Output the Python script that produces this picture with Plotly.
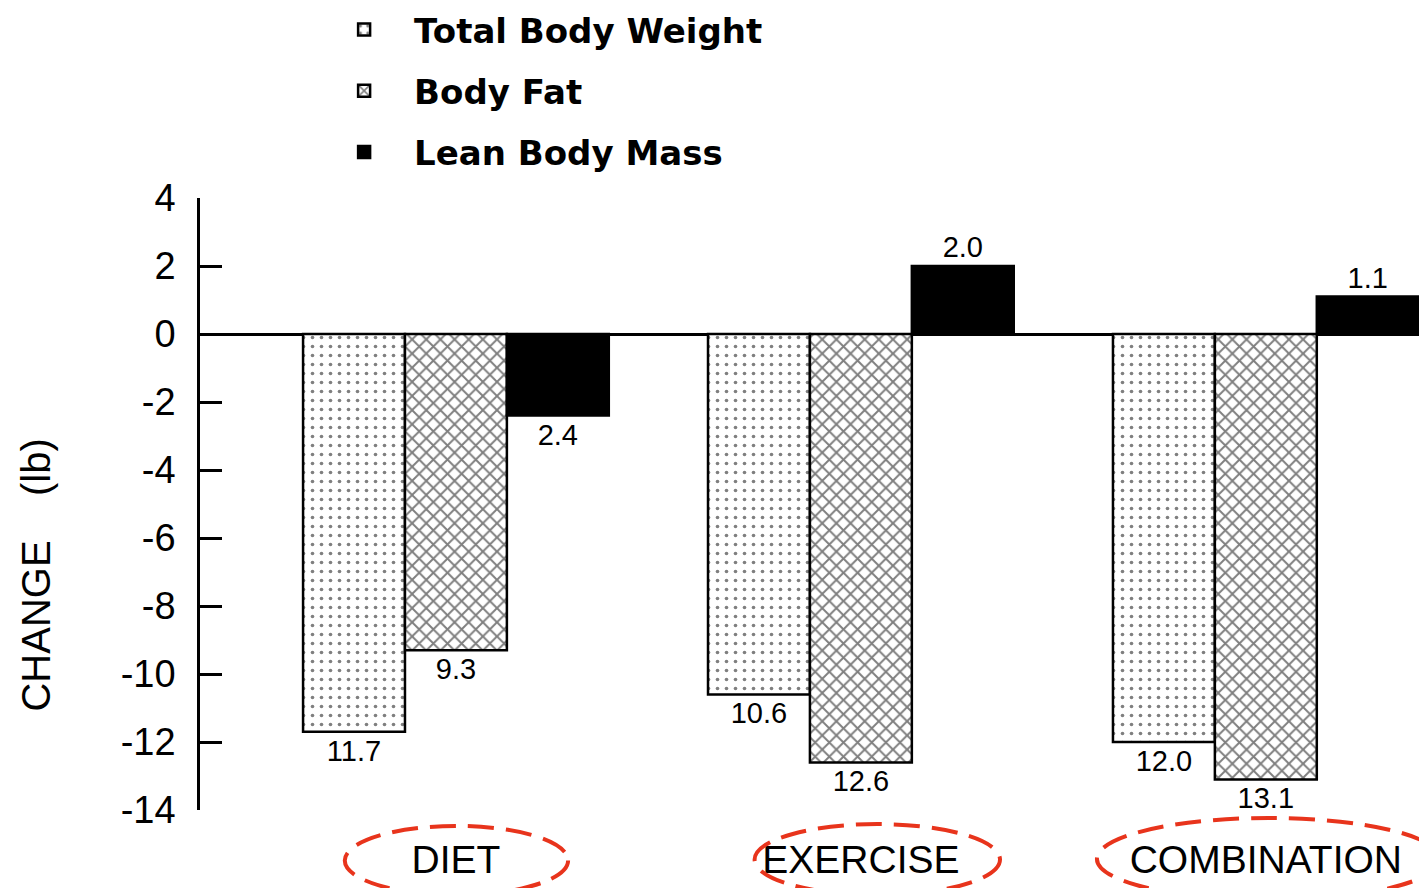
import plotly.graph_objects as go

categories = ["DIET", "EXERCISE", "COMBINATION"]
series_names = ["Total Body Weight", "Body Fat", "Lean Body Mass"]
total_body_weight = [-11.7, -10.6, -12.0]
body_fat = [-9.3, -12.6, -13.1]
lean_body_mass = [-2.4, 2.0, 1.1]
y_ticks = [4, 2, 0, -2, -4, -6, -8, -10, -12, -14]

FONT = "Liberation Sans, Arial, sans-serif"
LEG_FONT = "DejaVu Sans, sans-serif"

values = [total_body_weight, body_fat, lean_body_mass]
patterns = [
    dict(shape=".", fgcolor="black", bgcolor="white", size=9, solidity=0.13),
    dict(shape="x", fgcolor="black", bgcolor="white", size=10, solidity=0.35),
    dict(shape="", fgcolor="black", bgcolor="black"),
]
fills = ["white", "white", "black"]

x_idx = list(range(len(categories)))
fig = go.Figure()
for i, (name, vals) in enumerate(zip(series_names, values)):
    fig.add_trace(go.Bar(
        name=name,
        x=x_idx,
        y=vals,
        legendgroup=f"g{i}",
        marker=dict(color=fills[i], pattern=patterns[i],
                    line=dict(color="black", width=2.5)),
        text=[f"{abs(v):.1f}" for v in vals],
        textposition="outside",
        textfont=dict(family=FONT, size=29, color="black"),
        cliponaxis=False,
    ))

# page body has an 8px margin, so the figure is 8px smaller and margins compensate
fig.update_layout(
    width=1419, height=880,
    paper_bgcolor="white", plot_bgcolor="white",
    margin=dict(l=192, r=0, t=190, b=78, autoexpand=False),
    barmode="group", bargap=0.245, bargroupgap=0,
    showlegend=True,
    legend=dict(
        x=0.093, y=1.322, xanchor="left", yanchor="top",
        font=dict(family=LEG_FONT, size=34, color="black", weight="bold"),
        tracegroupgap=14, itemwidth=90, bgcolor="rgba(0,0,0,0)",
    ),
    xaxis=dict(
        tickvals=x_idx, ticktext=categories, range=[-0.632, 2.398],
        showline=False, showgrid=False, zeroline=False, ticks="",
        tickfont=dict(family=FONT, size=39, color="black"),
        ticklabelstandoff=23, automargin=False,
    ),
    yaxis=dict(
        range=[-14, 4], tickvals=y_ticks, ticktext=[str(t) for t in y_ticks],
        showline=True, linecolor="black", linewidth=2.5,
        ticks="inside", ticklen=22, tickwidth=2.5, tickcolor="black",
        showgrid=False, zeroline=True, zerolinecolor="black", zerolinewidth=2.5,
        tickfont=dict(family=FONT, size=38, color="black"),
        ticklabelstandoff=14, automargin=False,
    ),
    annotations=[dict(
        text="CHANGE    (lb)", textangle=-90, xref="paper", yref="paper",
        x=-0.134, y=0.384, xanchor="center", yanchor="middle", showarrow=False,
        font=dict(family=FONT, size=40, color="black"),
    )],
)

ellipses = [(0.118, 0.300, -0.026, -0.139),
            (0.452, 0.652, -0.023, -0.139),
            (0.731, 1.011, -0.013, -0.147)]
for x0, x1, y0, y1 in ellipses:
    fig.add_shape(type="circle", xref="paper", yref="paper",
                  x0=x0, x1=x1, y0=y1, y1=y0,
                  line=dict(color="#e8341c", width=4, dash="26px,12px"))

fig.write_html("out.html")
